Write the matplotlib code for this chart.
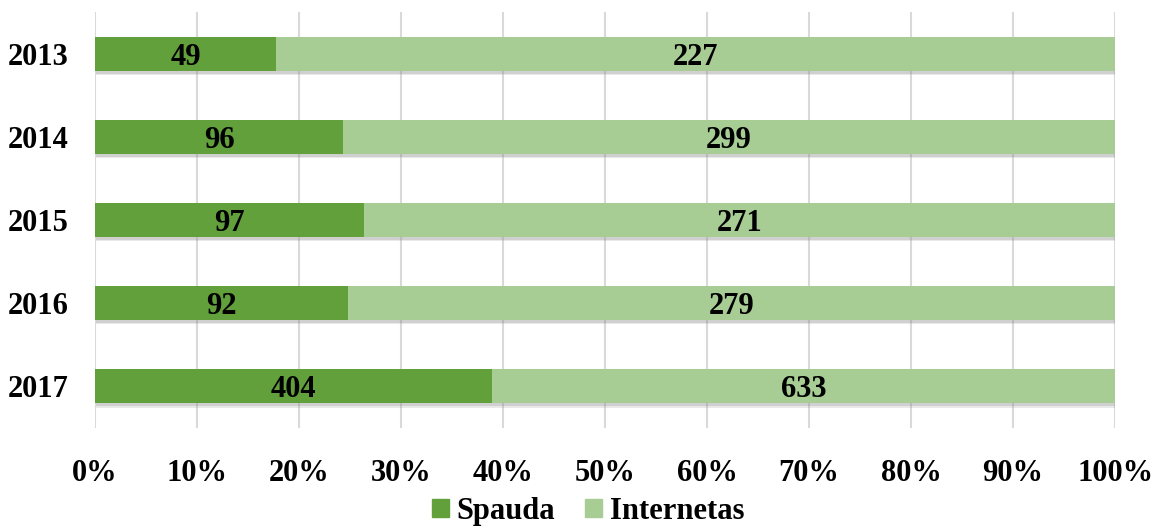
import matplotlib.pyplot as plt
import matplotlib.patheffects as pe
from matplotlib.patches import Patch
import numpy as np

years = ['2013', '2014', '2015', '2016', '2017']
spauda = [49, 96, 97, 92, 404]
internetas = [227, 299, 271, 279, 633]

plt.rcParams['font.family'] = ['Liberation Serif', 'DejaVu Serif']
plt.rcParams['font.weight'] = 'bold'

sp = np.array(spauda, dtype=float)
it = np.array(internetas, dtype=float)
total = sp + it
sp_pct = sp / total * 100
it_pct = it / total * 100

fig = plt.figure(figsize=(11.53, 5.31), dpi=100)
ax = fig.add_axes([0.0824, 0.194, 0.8847, 0.783])

y = np.arange(len(years))
# soft drop shadow under each bar
shadow = [pe.SimplePatchShadow(offset=(1, -3), shadow_rgbFace='#888888', alpha=0.18),
          pe.SimplePatchShadow(offset=(1, -2), shadow_rgbFace='#888888', alpha=0.25),
          pe.Normal()]

c_sp = '#62a03c'
c_it = '#a7cd95'
b1 = ax.barh(y, sp_pct, height=0.41, color=c_sp, zorder=3)
b2 = ax.barh(y, it_pct, left=sp_pct, height=0.41, color=c_it, zorder=3)
for b in list(b1) + list(b2):
    b.set_path_effects(shadow)

fs = 22
for i in range(len(years)):
    ax.text(sp_pct[i] / 2, y[i] + 0.04, str(spauda[i]), ha='center', va='center',
            fontsize=fs, fontweight='bold', zorder=4)
    ax.text(sp_pct[i] + it_pct[i] / 2, y[i] + 0.04, str(internetas[i]), ha='center', va='center',
            fontsize=fs, fontweight='bold', zorder=4)

ax.set_xlim(0, 100)
ax.set_ylim(len(years) - 0.5, -0.5)
ax.set_yticks(y)
ax.set_yticklabels(years, fontsize=fs, fontweight='bold')
ax.set_xticks(np.arange(0, 101, 10))
ax.set_xticklabels([f'{v}%' for v in range(0, 101, 10)], fontsize=fs, fontweight='bold')
ax.tick_params(axis='both', length=0)
ax.tick_params(axis='x', pad=22)
ax.tick_params(axis='y', pad=19)
ax.grid(axis='x', color='#d9d9d9', linewidth=1.5, zorder=0)
for s in ax.spines.values():
    s.set_visible(False)

handles = [Patch(color=c_sp, label='Spauda'), Patch(color=c_it, label='Internetas')]
fig.legend(handles=handles, loc='lower center', bbox_to_anchor=(0.51, -0.042), ncol=2,
           frameon=False, handlelength=0.55, handleheight=0.55,
           handletextpad=0.25, columnspacing=1.0, prop={'weight': 'bold', 'size': fs})

plt.savefig('out.png', dpi=100)
